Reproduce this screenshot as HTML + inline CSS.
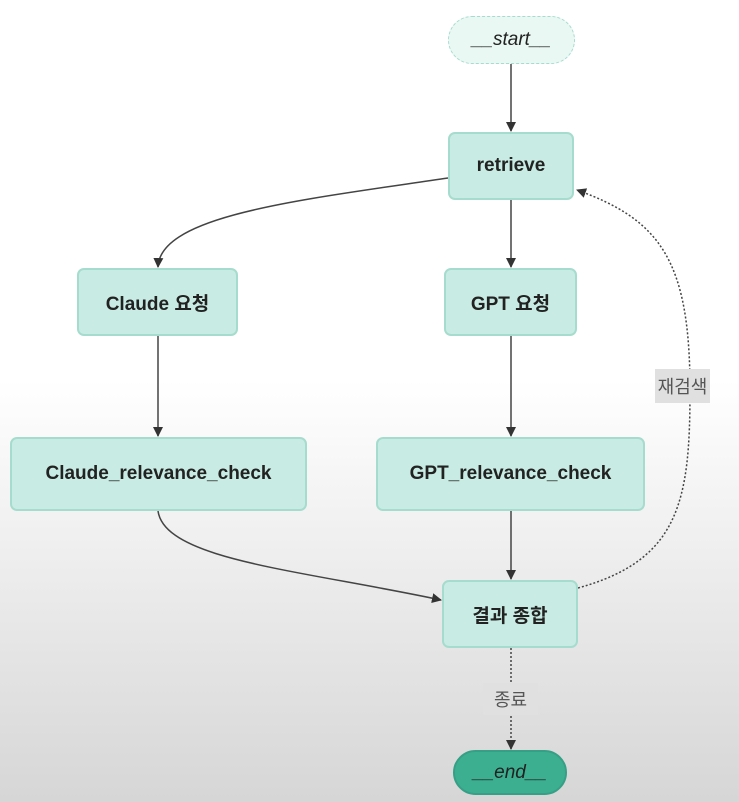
<html><head><style>
body{margin:0;width:739px;height:802px;overflow:hidden;background:linear-gradient(#fff 0px,#fff 380px,#d6d6d6 802px);font-family:"Liberation Sans","Noto Sans CJK KR",sans-serif}
.n{position:absolute;background:#c8ece3;border:2px solid #a6dccd;border-radius:7px;box-sizing:border-box;display:flex;align-items:center;justify-content:center;font-weight:bold;font-size:19px;color:#222}
.l{position:absolute;background:#e0e0e0;color:#555;font-size:18px;display:flex;align-items:center;justify-content:center}
</style></head><body>
<svg width="739" height="802" style="position:absolute;left:0;top:0">
<defs><marker id="a" markerWidth="10" markerHeight="10" refX="9" refY="5" orient="auto" markerUnits="userSpaceOnUse"><path d="M0,0L10,5L0,10z" fill="#333"/></marker></defs>
<g stroke="#444" stroke-width="1.5" fill="none" marker-end="url(#a)">
<path d="M511,64V131"/>
<path d="M448,178C300,200 160,215 158,267"/>
<path d="M511,200V267"/>
<path d="M158,336V436"/>
<path d="M511,336V436"/>
<path d="M158,511C165,560 300,570 441,600"/>
<path d="M511,511V579"/>
<path d="M578,588C680,560 690,500 690,390C690,260 660,220 577,190" stroke-dasharray="2,2"/>
<path d="M511,648V749" stroke-dasharray="2,2"/>
</g></svg>
<div class="n" style="left:448px;top:16px;width:127px;height:48px;border-radius:24px;background:#eaf8f4;border:1.5px dashed #a6dccd;font-weight:normal;font-style:italic">__start__</div>
<div class="n" style="left:448px;top:132px;width:126px;height:68px">retrieve</div>
<div class="n" style="left:77px;top:268px;width:161px;height:68px">Claude 요청</div>
<div class="n" style="left:444px;top:268px;width:133px;height:68px">GPT 요청</div>
<div class="n" style="left:10px;top:437px;width:297px;height:74px">Claude_relevance_check</div>
<div class="n" style="left:376px;top:437px;width:269px;height:74px">GPT_relevance_check</div>
<div class="n" style="left:442px;top:580px;width:136px;height:68px">결과 종합</div>
<div class="n" style="left:453px;top:750px;width:114px;height:45px;border-radius:23px;background:#3daf91;border-color:#35a085;font-weight:normal;font-style:italic">__end__</div>
<div class="l" style="left:655px;top:369px;width:55px;height:34px">재검색</div>
<div class="l" style="left:483px;top:683px;width:55px;height:32px">종료</div>
</body></html>
